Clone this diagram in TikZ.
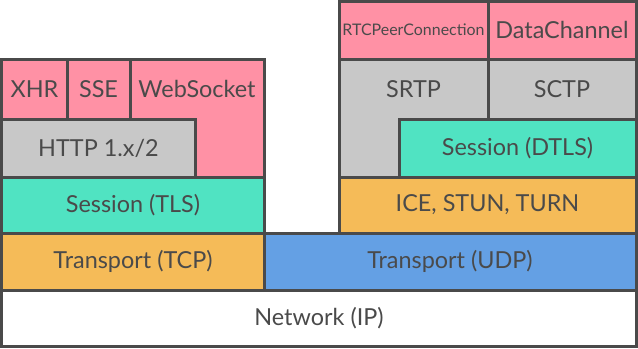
\documentclass[tikz,border=0pt]{standalone}
\usepackage{fontspec}
\setmainfont{Lato}
\usepackage{tikz}
\usetikzlibrary{positioning}

\definecolor{apppink}{HTML}{FF91A5}
\definecolor{protogray}{HTML}{C8C8C8}
\definecolor{sessteal}{HTML}{50E3C2}
\definecolor{transorange}{HTML}{F5BB58}
\definecolor{udpblue}{HTML}{64A0E4}
\definecolor{edgegray}{HTML}{4A4A4A}

\begin{document}
\begin{tikzpicture}[
  x=1bp, y=-1bp,
  layer/.style={rectangle, draw=edgegray, line width=3bp, inner sep=0pt, text=edgegray,
                font=\fontsize{23.5}{26}\selectfont},
  lbl/.style={text=edgegray, inner sep=0pt, font=\fontsize{23.5}{26}\selectfont}
]
\useasboundingbox (0,0) rectangle (638,348);

% bottom
\node[layer, fill=white, minimum width=634bp, minimum height=56bp] (ip) at (319,318) {Network (IP)};
\node[layer, fill=transorange, minimum width=262bp, minimum height=57bp] (tcp) at (133,261.5) {Transport (TCP)};
\node[layer, fill=udpblue, minimum width=372bp, minimum height=57bp] (udp) at (450,261.5) {Transport (UDP)};

% browser side
\node[layer, fill=sessteal, minimum width=262bp, minimum height=56bp] (tls) at (133,205) {Session (TLS)};
\node[layer, fill=apppink, minimum width=134bp, minimum height=118bp] (wsbox) at (197,118) {};
\node[lbl] (websocket) at (197,89) {WebSocket};
\node[layer, fill=protogray, minimum width=193bp, minimum height=58bp] (http) at (98.5,148) {HTTP 1.x/2};
\node[layer, fill=apppink, minimum width=65bp, minimum height=60bp] (xhr) at (34.5,89) {XHR};
\node[layer, fill=apppink, minimum width=63bp, minimum height=60bp] (sse) at (98.5,89) {SSE};

% webrtc side
\node[layer, fill=transorange, minimum width=297bp, minimum height=56bp] (ice) at (487.5,205) {ICE, STUN, TURN};
\node[layer, fill=protogray, minimum width=149bp, minimum height=118bp] (srtpbox) at (413.5,118) {};
\node[lbl] (srtp) at (413.5,89) {SRTP};
\node[layer, fill=sessteal, minimum width=237bp, minimum height=58bp] (dtls) at (517.5,148) {Session (DTLS)};
\node[layer, fill=protogray, minimum width=148bp, minimum height=60bp] (sctp) at (562,89) {SCTP};
\node[layer, fill=apppink, minimum width=149bp, minimum height=58bp, font=\fontsize{16}{18}\selectfont] (rtc) at (413.5,30) {RTCPeerConnection};
\node[layer, fill=apppink, minimum width=148bp, minimum height=58bp] (datachan) at (562,30) {DataChannel};

\end{tikzpicture}
\end{document}
